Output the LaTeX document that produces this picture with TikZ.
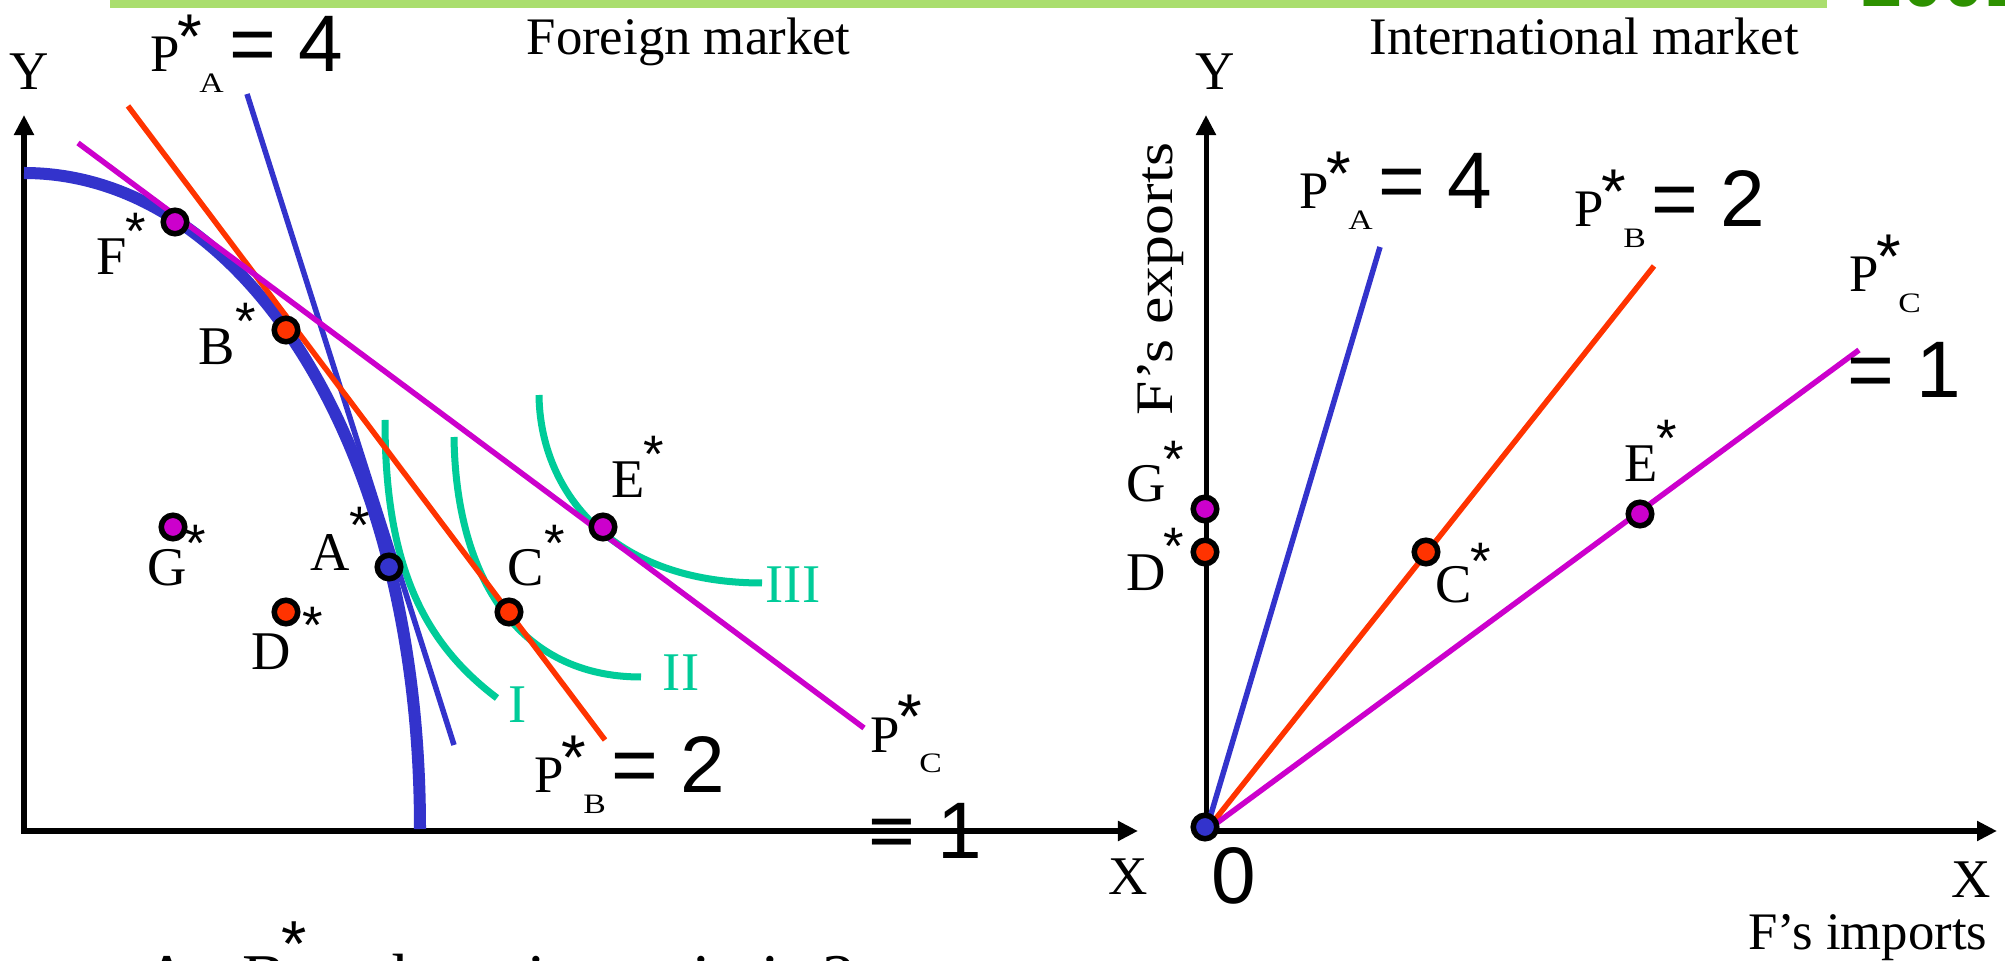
\documentclass[tikz,border=0pt]{standalone}
\usepackage{fontspec}
\setmainfont{Liberation Serif}
\newfontfamily\arialfont{Liberation Sans}
\usetikzlibrary{arrows.meta}

\definecolor{ppfblue}{RGB}{51,51,204}
\definecolor{linered}{RGB}{255,51,0}
\definecolor{linemag}{RGB}{204,0,204}
\definecolor{icgreen}{RGB}{0,204,153}
\definecolor{bargreen}{RGB}{170,222,110}
\definecolor{logogreen}{RGB}{45,145,0}

\newcommand{\lblfont}{\fontsize{15.5}{18}\selectfont}
\newcommand{\titlefont}{\fontsize{15}{18}\selectfont}
\newcommand{\numfont}{\arialfont\fontsize{22.8}{26}\selectfont}
\newcommand{\starfont}{\arialfont\fontsize{15}{18}\selectfont}
\newcommand{\pstarfont}{\arialfont\fontsize{18}{20}\selectfont}
\newcommand{\psubfont}{\fontsize{8}{9}\selectfont}
\newcommand{\logofont}{\arialfont\bfseries\fontsize{21}{24}\selectfont}
\newcommand{\notefont}{\fontsize{19}{22}\selectfont}
\newcommand{\notestarfont}{\arialfont\fontsize{18.5}{22}\selectfont}
% P*_X label
\newcommand{\pmark}[1]{P\kern-0.6pt\raisebox{3.8pt}{\pstarfont *}\kern-0.9pt\raisebox{-5.7pt}{\scalebox{1.2}[1]{\psubfont #1}}}

\begin{document}
\begin{tikzpicture}[x=0.01cm, y=-0.01cm,
  every node/.style={inner sep=0pt},
  axis/.style={line width=0.5mm, {Triangle[length=2mm,width=1.9mm]}-{Triangle[length=2mm,width=1.9mm]}},
  ppf/.style={line width=1.2mm, ppfblue},
  price/.style={line width=0.55mm},
  indiff/.style={line width=0.7mm, icgreen},
  pt/.style={circle, draw=black, line width=0.55mm, minimum size=2.35mm},
  lbl/.style={anchor=base, font=\lblfont},
  star/.style={anchor=base, font=\starfont},
  plbl/.style={anchor=base west, font=\titlefont},
  eqn/.style={anchor=base west, font=\numfont},
  title/.style={anchor=base west, font=\titlefont},
  iclbl/.style={anchor=base, font=\lblfont, text=icgreen}]

\clip (0,0) rectangle (2005,961);
\fill[white] (0,0) rectangle (2005,961);

% top bar and logo
\fill[bargreen] (110,0) rectangle (1827,8);
\node[anchor=base west, font=\logofont, text=logogreen] (logo) at (1861,7) {2001};

% titles
\node[title] (fmkt) at (526,55) {Foreign market};
\node[title] (imkt) at (1369,55) {International market};

% axes
\coordinate (lo) at (24,831);
\coordinate (ly) at (24,115);
\coordinate (lx) at (1138,831);
\coordinate (ro) at (1206,831);
\coordinate (ry) at (1206,115);
\coordinate (rx) at (1997,831);
\draw[axis] (ly) -- (lo) -- (lx);
\draw[axis] (ry) -- (ro) -- (rx);

\node[lbl] (ly lab) at (29,90) {Y};
\node[lbl] (lx lab) at (1128,894) {X};
\node[lbl] (ry lab) at (1215,90) {Y};
\node[lbl] (rx lab) at (1971,897) {X};
\node[anchor=base, font=\numfont] (zero) at (1234,903) {0};
\node[rotate=90, anchor=base west, font=\titlefont] (exports) at (1172,416) {\scalebox{1.17}[1]{F's exports}};
\node[anchor=base east, font=\titlefont] (imports) at (1988,949) {F's imports};

% production possibility frontier
\draw[ppf] (24,173) .. controls (240,173) and (420,440) .. (420,829);

% indifference curves
\draw[indiff] (385,420) .. controls (385,560) and (420,640) .. (497,698);
\draw[indiff] (454,437) .. controls (456,580) and (520,677) .. (641,677);
\draw[indiff] (539,395) .. controls (540,490) and (610,583) .. (762,583);
\node[iclbl] (ic1) at (518,723) {I};
\node[iclbl] (ic2) at (681,691) {II};
\node[iclbl] (ic3) at (793,603) {III};

% price lines, foreign market
\coordinate (pa1) at (247,94);
\coordinate (pa2) at (454,745);
\coordinate (pb1) at (128,106);
\coordinate (pb2) at (605,740);
\coordinate (pc1) at (78,143);
\coordinate (pc2) at (864,728);
\draw[price, ppfblue] (pa1) -- (pa2);
\draw[price, linered] (pb1) -- (pb2);
\draw[price, linemag] (pc1) -- (pc2);

% price lines, international market
\coordinate (qa) at (1380,247);
\coordinate (qb) at (1654,266);
\coordinate (qc) at (1859,350);
\draw[price, ppfblue] (ro) -- (qa);
\draw[price, linered] (ro) -- (qb);
\draw[price, linemag] (ro) -- (qc);

% price labels
\node[plbl] (pa left) at (150,72) {\pmark{A}\kern1.7pt{\numfont= 4}};
\node[plbl] (pb left) at (534,793) {\pmark{B}\kern1.7pt{\numfont= 2}};
\node[plbl] (pc left) at (870,752) {\pmark{C}};
\node[eqn] (pc left eq) at (868,858) {= 1};
\node[plbl] (pa right) at (1299,209) {\pmark{A}\kern1.7pt{\numfont= 4}};
\node[plbl] (pb right) at (1574,227) {\pmark{B}\kern1.7pt{\numfont= 2}};
\node[plbl] (pc right) at (1849,292) {\pmark{C}};
\node[eqn] (pc right eq) at (1847,398) {= 1};

% points, foreign market
\node[pt, fill=linemag] (F) at (175,222) {};
\node[pt, fill=linered] (B) at (286,330) {};
\node[pt, fill=linemag] (G) at (173,527) {};
\node[pt, fill=linered] (D) at (286,612) {};
\node[pt, fill=ppfblue] (A) at (389,567) {};
\node[pt, fill=linered] (C) at (509,612) {};
\node[pt, fill=linemag] (E) at (603,527) {};

\node[lbl] (F lab) at (112,275) {F};
\node[star] (F st) at (136,250) {*};
\node[lbl] (B lab) at (217,365) {B};
\node[star] (B st) at (246,340) {*};
\node[lbl] (G lab) at (167,586) {G};
\node[star] (G st) at (196,562) {*};
\node[lbl] (D lab) at (271,670) {D};
\node[star] (D st) at (313,644) {*};
\node[lbl] (A lab) at (330,571) {A};
\node[star] (A st) at (360,544) {*};
\node[lbl] (C lab) at (526,586) {C};
\node[star] (C st) at (555,562) {*};
\node[lbl] (E lab) at (628,498) {E};
\node[star] (E st) at (654,473) {*};

% points, international market
\node[pt, fill=ppfblue] (O) at (1205,827) {};
\node[pt, fill=linemag] (G') at (1205,509) {};
\node[pt, fill=linered] (D') at (1205,552) {};
\node[pt, fill=linered] (C') at (1426,552) {};
\node[pt, fill=linemag] (E') at (1640,514) {};

\node[lbl] (G' lab) at (1146,502) {G};
\node[star] (G' st) at (1174,478) {*};
\node[lbl] (D' lab) at (1146,591) {D};
\node[star] (D' st) at (1174,565) {*};
\node[lbl] (C' lab) at (1454,603) {C};
\node[star] (C' st) at (1481,580) {*};
\node[lbl] (E' lab) at (1641,482) {E};
\node[star] (E' st) at (1667,457) {*};

% caption, cut off by the page edge
\node[anchor=base west, font=\notefont] (note) at (143,1001)
  {At\hspace{9pt}B\kern-1.4pt\raisebox{9.8pt}{\notestarfont *}\hspace{19pt}the price ratio is 2};
\end{tikzpicture}
\end{document}
